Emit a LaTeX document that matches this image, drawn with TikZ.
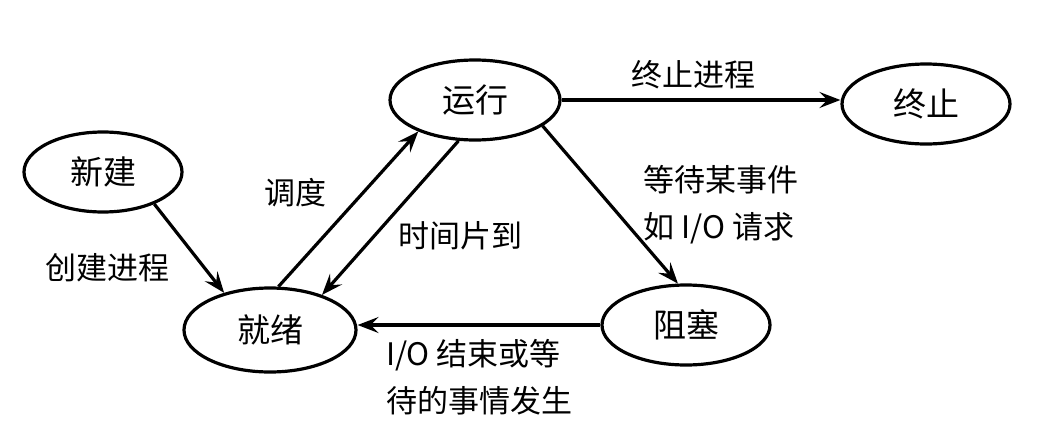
\documentclass[tikz,border=0pt]{standalone}
\usepackage{fontspec}
\setmainfont{Noto Sans CJK SC}
\usetikzlibrary{arrows.meta,shapes.geometric}
\begin{document}
\begin{tikzpicture}[x=1pt,y=-1pt,
  state/.style={draw,line width=3.2pt,ellipse,inner sep=0pt,font=\fontsize{33}{38}\selectfont},
  lbl/.style={inner sep=0pt,font=\fontsize{31}{47}\selectfont,align=left},
  arr/.style={line width=3.2pt,-{Stealth[length=21pt,width=16pt,inset=8pt]}}]
\useasboundingbox (0,0) rectangle (1062,442);
\node[state,minimum width=158pt,minimum height=80pt] (xj) at (103,172) {新建};
\node[state,minimum width=170pt,minimum height=80pt] (yx) at (475,100) {运行};
\node[state,minimum width=168pt,minimum height=80pt] (zz) at (926,104) {终止};
\node[state,minimum width=172pt,minimum height=84pt] (jx) at (270,330) {就绪};
\node[state,minimum width=168pt,minimum height=80pt] (zs) at (686,325) {阻塞};
\draw[arr] (xj.-32) -- (jx.141);
\draw[arr] (jx.79) -- (yx.209);
\draw[arr] (yx.248) -- (jx.34);
\draw[arr] (yx.east) -- (yx.east -| zz.west);
\draw[arr] (yx.-21) -- (zs.101);
\draw[arr] (zs.west) -- (zs.west -| jx.east);
\node[lbl] (l1) at (693,75) {终止进程};
\node[lbl] (l2) at (295,193) {调度};
\node[lbl] (l3) at (460,236) {时间片到};
\node[lbl] (l4) at (107,268) {创建进程};
\node[lbl] (l5) at (721,205) {等待某事件\\如 I/O 请求};
\node[lbl] (l6) at (479,377) {I/O 结束或等\\待的事情发生};
\end{tikzpicture}
\end{document}
